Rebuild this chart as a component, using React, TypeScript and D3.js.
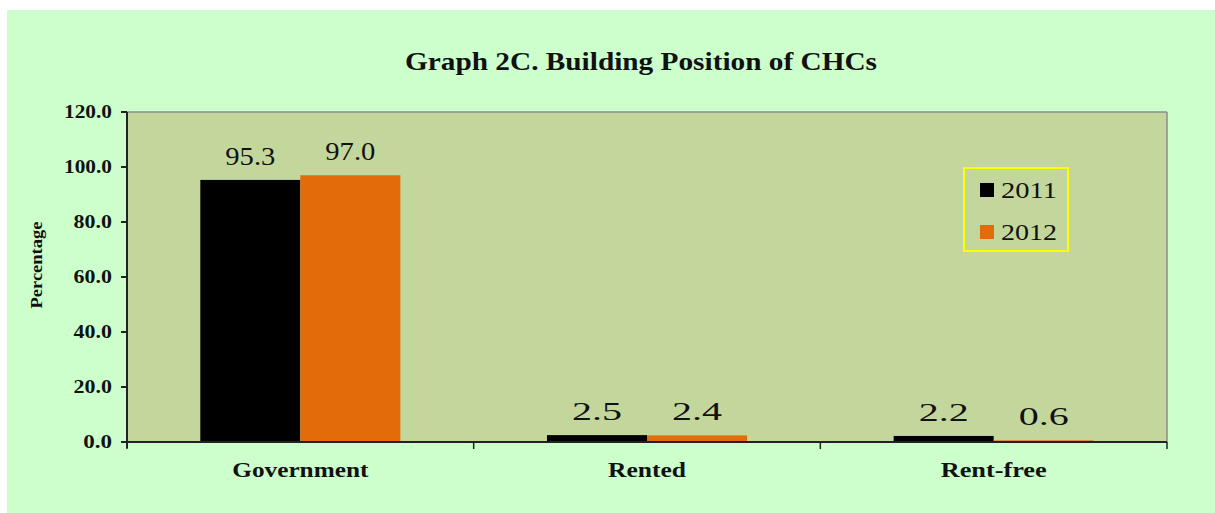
import React from "react";
import * as d3 from "d3";

const categories = ["Government", "Rented", "Rent-free"];
const series = ["2011", "2012"];
const values2011 = [95.3, 2.5, 2.2];
const values2012 = [97.0, 2.4, 0.6];
const yTicks = [0, 20, 40, 60, 80, 100, 120];
const colors = ["#000000", "#e36c0a"];

// widths of labels in the picture (text is drawn a bit wider than the font)
const catLabelWidth = [136, 78, 106];

const W = 1215;
const H = 513;
const plot = { left: 127, right: 1167, top: 112, bottom: 442 };
const serif = "Liberation Serif, Times New Roman, Times, serif";

export default function App() {
  const x = d3.scaleBand<string>().domain(categories).range([plot.left, plot.right]).paddingInner(0).paddingOuter(0);
  const xSub = d3.scaleBand<string>().domain(series).range([0, x.bandwidth()]).paddingInner(0).paddingOuter(0.733);
  const y = d3.scaleLinear().domain([0, 120]).range([plot.bottom, plot.top]);
  const fmt = d3.format(".1f");
  const seriesValues = [values2011, values2012];

  const boundaries = [...categories.map((c) => x(c) as number), plot.right];

  return (
    <div style={{ position: "absolute", left: 0, top: 0 }}>
      <svg width={W} height={H} style={{ display: "block" }}>
        <rect x={0} y={0} width={W} height={H} fill="#ffffff" />
        <rect x={7} y={10} width={W - 7} height={H - 10} fill="#ccffcc" />

        <text x={641} y={70} textAnchor="middle" fontFamily={serif} fontSize={25} fontWeight="bold" fill="#111"
          textLength={472} lengthAdjust="spacingAndGlyphs">
          Graph 2C. Building Position of CHCs
        </text>

        {/* plot area */}
        <rect x={plot.left} y={plot.top} width={plot.right - plot.left} height={plot.bottom - plot.top}
          fill="#c3d69b" />
        <line x1={plot.left} x2={plot.right} y1={plot.top} y2={plot.top} stroke="#8c8c8c" strokeWidth={1.5} />
        <line x1={plot.right} x2={plot.right} y1={plot.top} y2={plot.bottom} stroke="#8c8c8c" strokeWidth={1.5} />

        {/* bars */}
        {seriesValues.map((vals, si) =>
          vals.map((v, ci) => {
            const bx = (x(categories[ci]) as number) + (xSub(series[si]) as number);
            return (
              <g key={`${si}-${ci}`}>
                <rect x={bx} y={y(v)} width={xSub.bandwidth()} height={plot.bottom - y(v)} fill={colors[si]} />
                <text x={bx + xSub.bandwidth() / 2} y={y(v) - 15} textAnchor="middle" fontFamily={serif}
                  fontSize={25} fill="#111" textLength={50} lengthAdjust="spacingAndGlyphs">
                  {fmt(v)}
                </text>
              </g>
            );
          })
        )}

        {/* y axis */}
        <line x1={plot.left} x2={plot.left} y1={plot.top} y2={plot.bottom + 6} stroke="#222" strokeWidth={2} />
        {yTicks.map((t) => (
          <g key={t}>
            <line x1={plot.left - 6} x2={plot.left} y1={y(t)} y2={y(t)} stroke="#222" strokeWidth={2} />
            <text x={112} y={y(t)} dy="0.35em" textAnchor="end" fontFamily={serif} fontSize={18} fontWeight="bold"
              fill="#111" textLength={fmt(t).length * 9.6} lengthAdjust="spacingAndGlyphs">
              {fmt(t)}
            </text>
          </g>
        ))}
        <text transform="translate(42,265) rotate(-90)" textAnchor="middle" fontFamily={serif} fontSize={17}
          fontWeight="bold" fill="#111" textLength={87} lengthAdjust="spacingAndGlyphs">
          Percentage
        </text>

        {/* x axis */}
        <line x1={plot.left} x2={plot.right} y1={plot.bottom} y2={plot.bottom} stroke="#222" strokeWidth={2} />
        {boundaries.map((b, i) => (
          <line key={i} x1={b} x2={b} y1={plot.bottom} y2={plot.bottom + 7} stroke="#222" strokeWidth={1.5} />
        ))}
        {categories.map((c, i) => (
          <text key={c} x={(x(c) as number) + x.bandwidth() / 2} y={477} textAnchor="middle" fontFamily={serif}
            fontSize={22} fontWeight="bold" fill="#111" textLength={catLabelWidth[i]} lengthAdjust="spacingAndGlyphs">
            {c}
          </text>
        ))}

        {/* legend */}
        <rect x={964} y={168} width={104} height={83} fill="none" stroke="#ffff00" strokeWidth={2} />
        {series.map((s, i) => (
          <g key={s} transform={`translate(980,${183 + i * 42})`}>
            <rect x={0} y={0} width={14} height={14} fill={colors[i]} />
            <text x={21} y={15} fontFamily={serif} fontSize={24} fill="#111" textLength={56}
              lengthAdjust="spacingAndGlyphs">
              {s}
            </text>
          </g>
        ))}
      </svg>
    </div>
  );
}
